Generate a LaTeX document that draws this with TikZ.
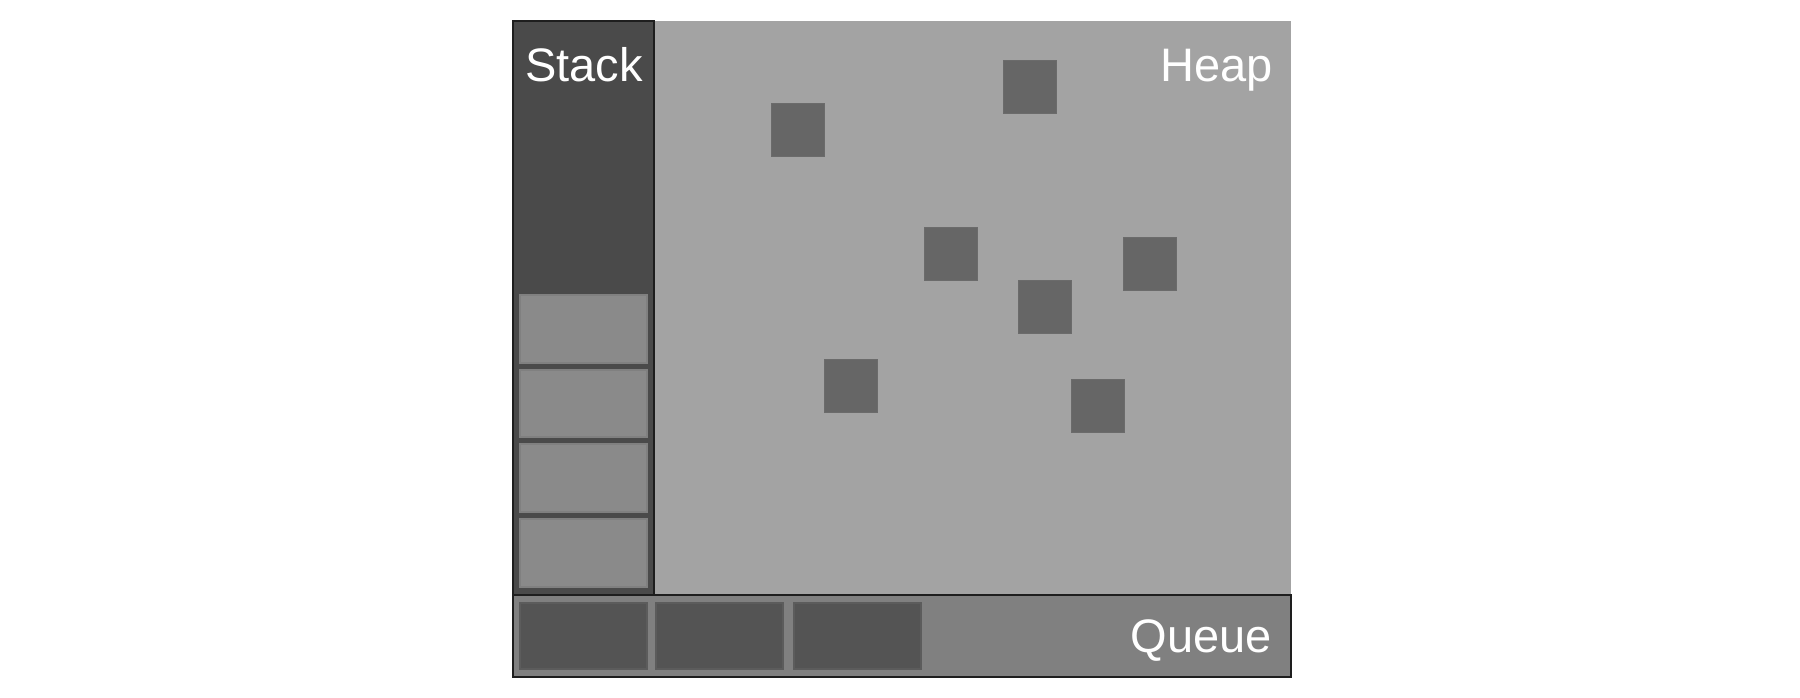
\documentclass[tikz,border=0pt]{standalone}
\usepackage{fontspec}
\setmainfont{Liberation Sans}
\definecolor{heapbg}{HTML}{A3A3A3}
\definecolor{stackbg}{HTML}{4A4A4A}
\definecolor{queuebg}{HTML}{808080}
\definecolor{frameline}{HTML}{1E1E1E}

\begin{document}
\begin{tikzpicture}[x=1pt,y=-1pt,
	stackitem/.style={fill=black!46,draw=black!50,line width=1.5pt},
	queueitem/.style={fill=black!67,draw=black!64,line width=1.5pt},
	heapobj/.style={fill=black!60,draw=black!58,line width=1pt},
	label/.style={text=white,inner sep=0pt,font=\fontsize{47}{56}\selectfont}]
	\useasboundingbox (0,0) rectangle (1800,698);

	% heap area and its objects
	\fill[heapbg] (654,21) rectangle (1291,595);
	\draw[heapobj] (771,104) rectangle ++(53,53);
	\draw[heapobj] (1003,61) rectangle ++(53,53);
	\draw[heapobj] (924,227) rectangle ++(53,53);
	\draw[heapobj] (1123,237) rectangle ++(53,53);
	\draw[heapobj] (1018,280) rectangle ++(53,53);
	\draw[heapobj] (824,359) rectangle ++(53,53);
	\draw[heapobj] (1071,379) rectangle ++(53,53);

	% stack with its frames
	\draw[fill=stackbg,draw=frameline,line width=2pt] (513,21) rectangle (654,595);
	\draw[stackitem] (520,295) rectangle (647,363);
	\draw[stackitem] (520,370) rectangle (647,437);
	\draw[stackitem] (520,444) rectangle (647,512);
	\draw[stackitem] (520,519) rectangle (647,587);

	% queue
	\draw[fill=queuebg,draw=frameline,line width=2.5pt] (513,595) rectangle (1291,677);
	\draw[queueitem] (520,603) rectangle (647,669);
	\draw[queueitem] (656,603) rectangle (783,669);
	\draw[queueitem] (794,603) rectangle (921,669);

	\node[label,anchor=base] (stacklbl) at (584,82) {Stack};
	\node[label,anchor=base east] (heaplbl) at (1273,82) {Heap};
	\node[label,anchor=base east] (queuelbl) at (1272,652) {Queue};
\end{tikzpicture}
\end{document}
